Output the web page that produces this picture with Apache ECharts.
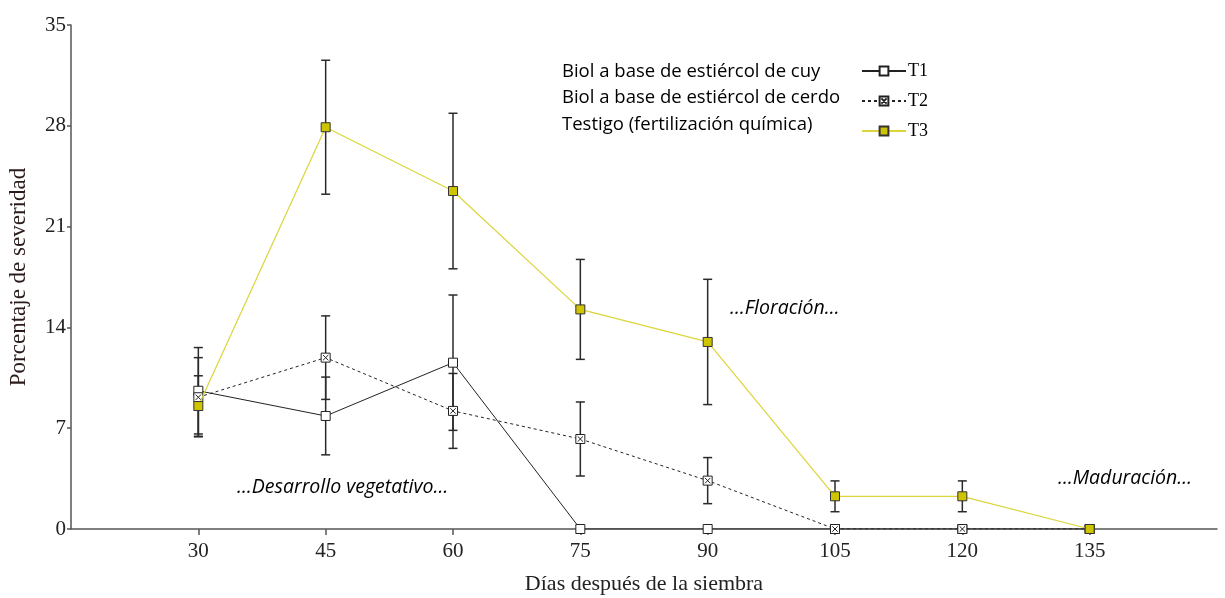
<!DOCTYPE html>
<html><head><meta charset="utf-8">
<script src="https://cdn.jsdelivr.net/npm/echarts@6/dist/echarts.min.js"></script>
<style>html,body{margin:0;padding:0;background:#fff}#c{width:1225px;height:598px}</style>
</head><body><div id="c"></div>
<script>
const days = [30, 45, 60, 75, 90, 105, 120, 135];
const tickLabels = [30, 45, 60, 75, 90, 105, 120, 135];
const seriesNames = ['T1', 'T2', 'T3'];
const legendTexts = ['Biol a base de estiércol de cuy', 'Biol a base de estiércol de cerdo', 'Testigo (fertilización química)'];
const t1 = [9.6, 7.85, 11.55, 0, 0, 0, 0, 0];
const t2 = [9.15, 11.9, 8.2, 6.25, 3.36, 0, 0, 0];
const t3 = [8.54, 27.9, 23.47, 15.25, 12.99, 2.27, 2.27, 0];
const e1 = [3.0, 2.7, 4.7, 0, 0, 0, 0, 0];
const e2 = [2.75, 2.9, 2.6, 2.57, 1.6, 0, 0, 0];
const e3 = [2.1, 4.65, 5.4, 3.47, 4.35, 1.07, 1.07, 0];

const serif = '"Liberation Serif", "DejaVu Serif", serif';
const sans = '"Open Sans", "Noto Sans", sans-serif';

function pairs(vals) { return days.map((d, i) => [d, vals[i]]); }
function errData(vals, errs) {
  const out = [];
  days.forEach((d, i) => { if (errs[i] > 0) out.push([d, vals[i] - errs[i], vals[i] + errs[i]]); });
  return out;
}
function errSeries(vals, errs, z) {
  return {
    type: 'custom', data: errData(vals, errs), z: z, silent: true,
    renderItem: function (params, api) {
      const lo = api.coord([api.value(0), api.value(1)]);
      const hi = api.coord([api.value(0), api.value(2)]);
      const w = 4.5;
      const st = { stroke: '#2a2a2a', lineWidth: 1.5 };
      return { type: 'group', children: [
        { type: 'line', shape: { x1: lo[0], y1: lo[1], x2: hi[0], y2: hi[1] }, style: st },
        { type: 'line', shape: { x1: lo[0] - w, y1: lo[1], x2: lo[0] + w, y2: lo[1] }, style: st },
        { type: 'line', shape: { x1: hi[0] - w, y1: hi[1], x2: hi[0] + w, y2: hi[1] }, style: st }
      ]};
    }
  };
}

const chart = echarts.init(document.getElementById('c'));
chart.setOption({
  animation: false,
  grid: { left: 71, right: 8, top: 25, bottom: 69, outerBoundsMode: 'none', containLabel: false },
  legend: {
    data: seriesNames, orient: 'vertical', left: 856, top: 57,
    itemWidth: 44, itemHeight: 11, itemGap: 12,
    textStyle: { fontFamily: serif, fontSize: 18, color: '#000', padding: [0, 0, 0, -3] }
  },
  xAxis: {
    type: 'value', min: 15, max: 150, interval: 15,
    name: 'Días después de la siembra', nameLocation: 'middle', nameGap: 44,
    nameTextStyle: { fontFamily: serif, fontSize: 22, color: '#222' },
    axisLine: { lineStyle: { color: '#555', width: 1.5 } },
    axisTick: { show: true, customValues: tickLabels, length: 6, lineStyle: { color: '#555', width: 1.5 } },
    axisLabel: { customValues: tickLabels, fontFamily: serif, fontSize: 21, color: '#222', margin: 12 },
    splitLine: { show: false }
  },
  yAxis: {
    type: 'value', min: 0, max: 35, interval: 7,
    name: 'Porcentaje de severidad', nameLocation: 'middle', nameGap: 41, nameRotate: 90,
    nameTextStyle: { fontFamily: serif, fontSize: 23, color: '#2a1a1a' },
    axisLine: { show: true, lineStyle: { color: '#555', width: 1.5 } },
    axisTick: { show: true, length: 4, lineStyle: { color: '#555', width: 1.5 } },
    axisLabel: { fontFamily: serif, fontSize: 21, color: '#222', margin: 5 },
    splitLine: { show: false }
  },
  graphic: [
    { type: 'text', left: 562, top: 62, style: { text: legendTexts[0], font: '18.5px ' + sans, fill: '#000' } },
    { type: 'text', left: 562, top: 88, style: { text: legendTexts[1], font: '18.5px ' + sans, fill: '#000' } },
    { type: 'text', left: 562, top: 115, style: { text: legendTexts[2], font: '18.5px ' + sans, fill: '#000' } },
    { type: 'text', left: 237, top: 477, style: { text: '…Desarrollo vegetativo…', font: 'italic 19.5px ' + sans, fill: '#000' } },
    { type: 'text', left: 730, top: 298, style: { text: '…Floración…', font: 'italic 19.5px ' + sans, fill: '#000' } },
    { type: 'text', left: 1058, top: 468, style: { text: '…Maduración…', font: 'italic 19.5px ' + sans, fill: '#000' } }
  ],
  series: [
    errSeries(t1, e1, 1), errSeries(t2, e2, 1), errSeries(t3, e3, 1),
    { name: 'T1', type: 'line', data: pairs(t1), z: 3, symbol: 'rect', symbolSize: 9,
      lineStyle: { color: '#222', width: 1 },
      itemStyle: { color: '#fff', borderColor: '#222', borderWidth: 1 } },
    { name: 'T2', type: 'line', data: pairs(t2), z: 4, symbol: 'path://M0,0H10V10H0Z M2,2L8,8 M8,2L2,8', symbolSize: 9,
      lineStyle: { color: '#222', width: 1, type: [3, 3] },
      itemStyle: { color: '#fff', borderColor: '#222', borderWidth: 1 } },
    { name: 'T3', type: 'line', data: pairs(t3), z: 5, symbol: 'rect', symbolSize: 9,
      lineStyle: { color: '#dcd53a', width: 1.2 },
      itemStyle: { color: '#cfc400', borderColor: '#333', borderWidth: 1 } }
  ]
});
</script></body></html>
